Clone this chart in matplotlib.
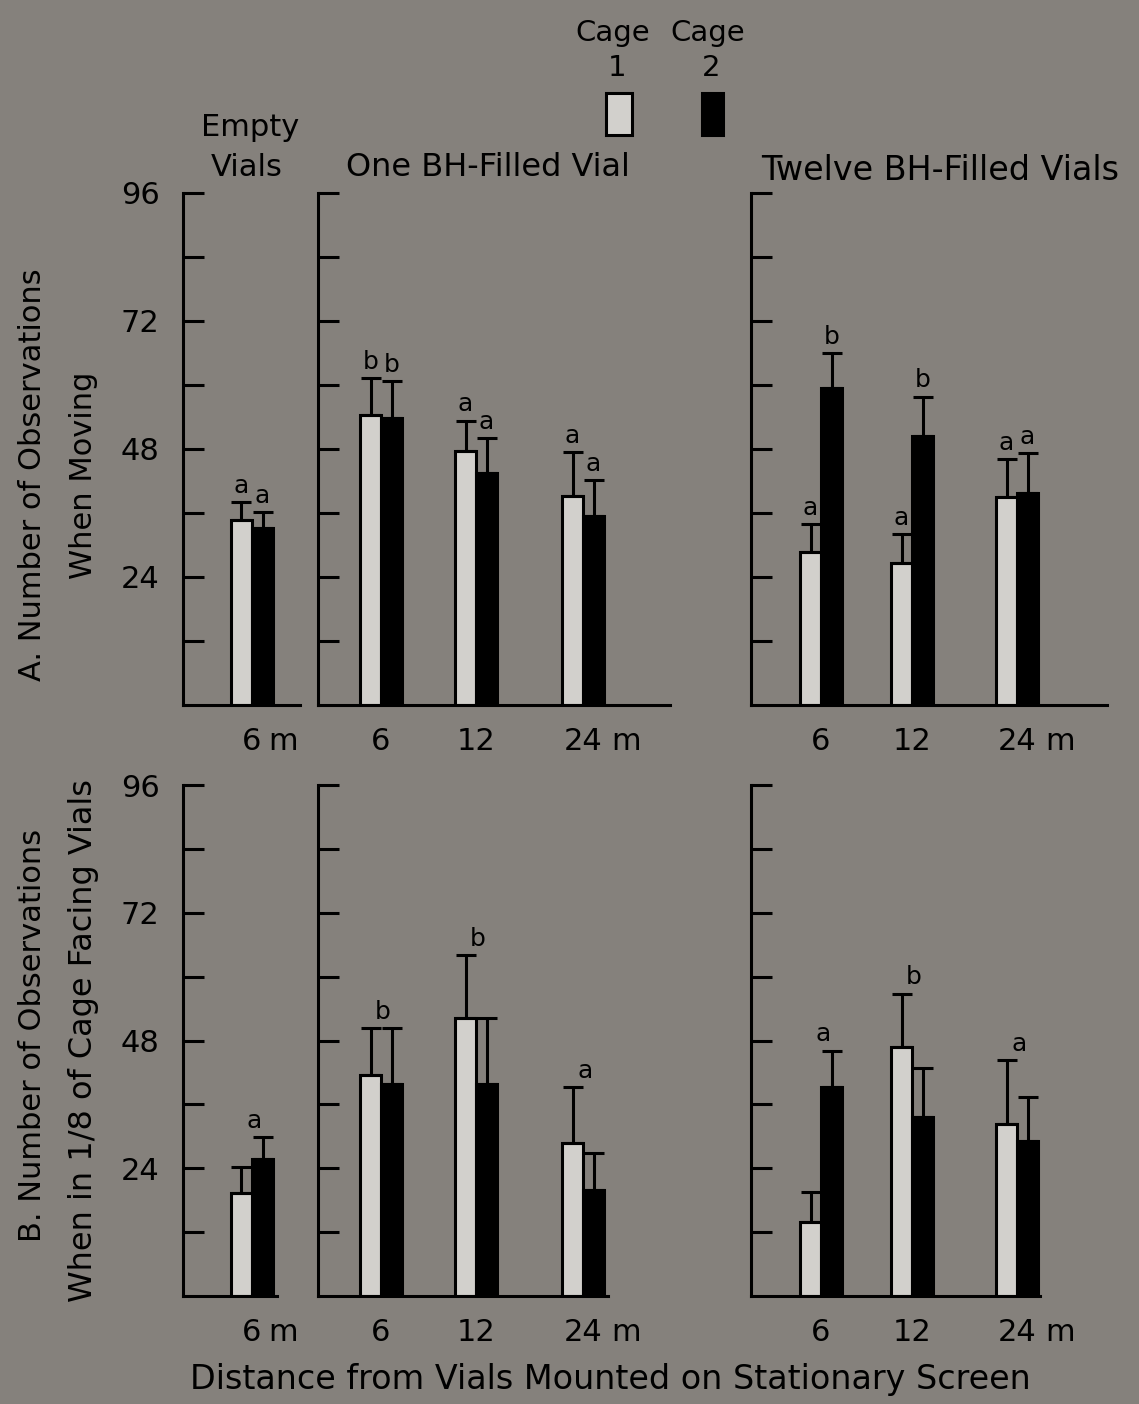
import matplotlib
matplotlib.use("Agg")
import matplotlib.pyplot as plt

# ---------------- data ----------------
groups_empty = ["6"]
groups_filled = ["6", "12", "24"]
ytick_labels = ["24", "48", "72", "96"]

# Row A: moving
A_empty_c1 = [34.7]; A_empty_c1_err = [3.3]
A_empty_c2 = [33.2]; A_empty_c2_err = [3.0]
A_one_c1 = [54.4, 47.6, 39.2]; A_one_c1_err = [6.9, 5.7, 8.2]
A_one_c2 = [53.8, 43.5, 35.4]; A_one_c2_err = [6.9, 6.5, 6.8]
A_twelve_c1 = [28.7, 26.6, 39.0]; A_twelve_c1_err = [5.2, 5.4, 7.1]
A_twelve_c2 = [59.4, 50.4, 39.7]; A_twelve_c2_err = [6.6, 7.4, 7.5]
A_empty_letters_c1 = ["a"]; A_empty_letters_c2 = ["a"]
A_one_letters_c1 = ["b", "a", "a"]; A_one_letters_c2 = ["b", "a", "a"]
A_twelve_letters_c1 = ["a", "a", "a"]; A_twelve_letters_c2 = ["b", "b", "a"]

# Row B: facing vials
B_empty_c1 = [19.3]; B_empty_c1_err = [4.9]
B_empty_c2 = [25.7]; B_empty_c2_err = [4.1]
B_one_c1 = [41.6, 52.3, 28.7]; B_one_c1_err = [8.7, 11.8, 10.5]
B_one_c2 = [39.8, 39.8, 19.9]; B_one_c2_err = [10.5, 12.5, 6.9]
B_twelve_c1 = [13.9, 46.7, 32.4]; B_twelve_c1_err = [5.6, 10.1, 11.9]
B_twelve_c2 = [39.2, 33.6, 29.1]; B_twelve_c2_err = [6.9, 9.3, 8.2]
B_empty_letters = ["a"]
B_one_letters = ["b", "b", "a"]
B_twelve_letters = ["a", "b", "a"]

# ---------------- style / layout ----------------
W, H = 1139, 1404
BG = "#85817c"
LIGHT = "#d2d0cc"
LW = 2.2
FONT = "DejaVu Sans"
plt.rcParams["font.family"] = FONT

fig = plt.figure(figsize=(W / 100, H / 100), dpi=100, facecolor=BG)

BAR_W = 21
panels_x = [  # (left px, right px, group centres px, baseline end top, baseline end bottom)
    (183, 300, [252], 300, 277),
    (318, 670, [381, 476, 583], 670, 608),
    (751, 1107, [821, 912, 1017], 1107, 1040),
]
rows_y = [(193, 705), (785, 1296)]


def make_ax(px0, px1, py0, py1):
    return fig.add_axes([px0 / W, 1 - py1 / H, (px1 - px0) / W, (py1 - py0) / H])


def draw_panel(ax, centers, c1, e1, c2, e2, first, base_end, px0, px1):
    ax.set_facecolor("none")
    ax.set_xlim(px0, px1)
    ax.set_ylim(0, 96)
    xs1 = [c - BAR_W / 2 for c in centers]
    xs2 = [c + BAR_W / 2 for c in centers]
    ax.bar(xs1, c1, width=BAR_W, color=LIGHT, edgecolor="black", linewidth=LW, zorder=2)
    ax.bar(xs2, c2, width=BAR_W, color="black", edgecolor="black", linewidth=LW, zorder=2)
    ax.errorbar(xs1, c1, yerr=[[0] * len(c1), e1], fmt="none", ecolor="black",
                elinewidth=LW, capsize=7.5, capthick=LW, zorder=3)
    ax.errorbar(xs2, c2, yerr=[[0] * len(c2), e2], fmt="none", ecolor="black",
                elinewidth=LW, capsize=7.5, capthick=LW, zorder=3)
    for s in ["top", "right"]:
        ax.spines[s].set_visible(False)
    for s in ["left", "bottom"]:
        ax.spines[s].set_linewidth(LW)
    ax.spines["left"].set_bounds(0, 96)
    ax.spines["bottom"].set_bounds(px0, base_end)
    ax.set_yticks(range(12, 97, 12))
    if first:
        ax.set_yticklabels([str(v) if str(v) in ytick_labels else "" for v in range(12, 97, 12)])
    else:
        ax.set_yticklabels([])
    ax.tick_params(axis="y", direction="in", length=15, width=LW, labelsize=22, pad=17)
    ax.set_xticks([])
    return xs1, xs2


rows = [
    [(A_empty_c1, A_empty_c1_err, A_empty_c2, A_empty_c2_err),
     (A_one_c1, A_one_c1_err, A_one_c2, A_one_c2_err),
     (A_twelve_c1, A_twelve_c1_err, A_twelve_c2, A_twelve_c2_err)],
    [(B_empty_c1, B_empty_c1_err, B_empty_c2, B_empty_c2_err),
     (B_one_c1, B_one_c1_err, B_one_c2, B_one_c2_err),
     (B_twelve_c1, B_twelve_c1_err, B_twelve_c2, B_twelve_c2_err)],
]
A_letters = [(A_empty_letters_c1, A_empty_letters_c2),
             (A_one_letters_c1, A_one_letters_c2),
             (A_twelve_letters_c1, A_twelve_letters_c2)]
B_letters = [B_empty_letters, B_one_letters, B_twelve_letters]
group_labels = [groups_empty, groups_filled, groups_filled]
LET_FS = 18

for r, (py0, py1) in enumerate(rows_y):
    for p, (px0, px1, centers, be_top, be_bot) in enumerate(panels_x):
        ax = make_ax(px0, px1, py0, py1)
        c1, e1, c2, e2 = rows[r][p]
        base_end = be_top if r == 0 else be_bot
        xs1, xs2 = draw_panel(ax, centers, c1, e1, c2, e2, p == 0, base_end, px0, px1)
        if r == 0:
            l1, l2 = A_letters[p]
            for x, v, e, t in zip(xs1, c1, e1, l1):
                ax.text(x, v + e + 0.8, t, ha="center", va="bottom", fontsize=LET_FS)
            for x, v, e, t in zip(xs2, c2, e2, l2):
                ax.text(x, v + e + 0.8, t, ha="center", va="bottom", fontsize=LET_FS)
        else:
            for c, a, ea, b, eb, t in zip(centers, c1, e1, c2, e2, B_letters[p]):
                ax.text(c + 2, max(a + ea, b + eb) + 0.8, t, ha="center", va="bottom", fontsize=LET_FS)
        # x labels
        labs = group_labels[p]
        for i, (c, lab) in enumerate(zip(centers, labs)):
            ax.text(c, -4.2, lab, ha="center", va="top", fontsize=22, clip_on=False)
            if i == len(labs) - 1:
                ax.annotate("m", xy=(c, -4.2), xytext=(12 if len(lab) == 1 else 20, 0),
                            textcoords="offset points", ha="left", va="top",
                            fontsize=22, annotation_clip=False)

# panel titles
def ftext(x, y, s, **kw):
    fig.text(x / W, 1 - y / H, s, **kw)

ftext(250, 127, "Empty", ha="center", va="center", fontsize=22)
ftext(247, 167, "Vials", ha="center", va="center", fontsize=22)
ftext(488, 167, "One BH-Filled Vial", ha="center", va="center", fontsize=23)
ftext(940, 170, "Twelve BH-Filled Vials", ha="center", va="center", fontsize=24)

# legend
ftext(613, 33, "Cage", ha="center", va="center", fontsize=21)
ftext(708, 33, "Cage", ha="center", va="center", fontsize=21)
ftext(617, 68, "1", ha="center", va="center", fontsize=21)
ftext(711, 68, "2", ha="center", va="center", fontsize=21)
leg_ax = fig.add_axes([0, 0, 1, 1], facecolor="none")
leg_ax.set_xlim(0, W); leg_ax.set_ylim(H, 0); leg_ax.axis("off")
leg_ax.add_patch(plt.Rectangle((606, 93), 26, 42, facecolor=LIGHT, edgecolor="black", linewidth=LW))
leg_ax.add_patch(plt.Rectangle((702, 93), 21, 42, facecolor="black", edgecolor="black", linewidth=LW))

# axis labels
ftext(33, 475, "A. Number of Observations", rotation=90, ha="center", va="center", fontsize=22)
ftext(84, 475, "When Moving", rotation=90, ha="center", va="center", fontsize=22)
ftext(33, 1035, "B. Number of Observations", rotation=90, ha="center", va="center", fontsize=22)
ftext(84, 1040, "When in 1/8 of Cage Facing Vials", rotation=90, ha="center", va="center", fontsize=23)
ftext(610, 1380, "Distance from Vials Mounted on Stationary Screen", ha="center", va="center", fontsize=24)

fig.savefig("out.png", dpi=100, facecolor=BG)
